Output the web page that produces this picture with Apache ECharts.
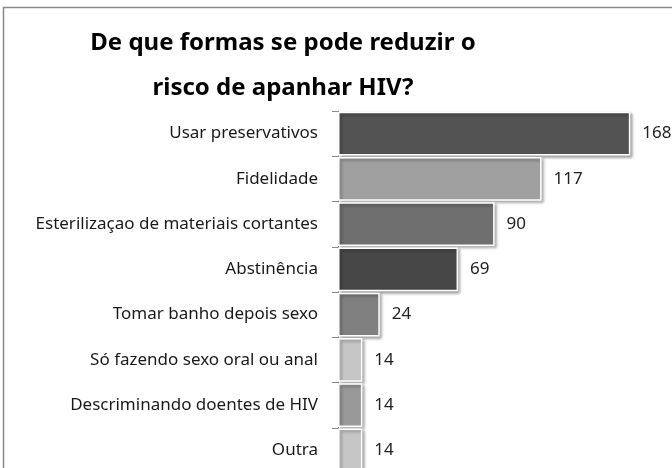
<!DOCTYPE html>
<html lang="pt">
<head>
<meta charset="UTF-8">
<title>Risco HIV</title>
<script src="https://cdn.jsdelivr.net/npm/echarts@6/dist/echarts.min.js"></script>
<style>
  html, body { margin: 0; padding: 0; background: #fff; }
  #main { width: 672px; height: 468px; }
</style>
</head>
<body>
<div id="main"></div>
<script type="text/javascript">
// dados do gráfico
var categorias = [
    'Usar preservativos',
    'Fidelidade',
    'Esterilizaçao de materiais cortantes',
    'Abstinência',
    'Tomar banho depois sexo',
    'Só fazendo sexo oral ou anal',
    'Descriminando doentes de HIV',
    'Outra'
];
var valores = [168, 117, 90, 69, 24, 14, 14, 14];
var cores = ['#535353', '#a0a0a0', '#6f6f6f', '#474747', '#808080', '#c6c6c6', '#999999', '#c6c6c6'];

var myChart = echarts.init(document.getElementById('main'));

myChart.setOption({
    backgroundColor: '#fff',
    animation: false,
    title: {
        text: 'De que formas se pode reduzir o\nrisco de apanhar HIV?',
        left: 278,
        textAlign: 'center',
        top: 16,
        textStyle: {
            fontFamily: '"Noto Sans", sans-serif',
            fontWeight: 'bold',
            fontSize: 24,
            lineHeight: 45,
            color: '#000'
        }
    },
    // moldura cinzenta
    graphic: [{
        type: 'rect',
        shape: { x: 3.5, y: 7.5, width: 720, height: 520 },
        style: { fill: 'none', stroke: '#8a8a8a', lineWidth: 1.5 },
        silent: true
    }],
    grid: {
        left: 338,
        top: 111,
        width: 348,
        height: 362,
        outerBoundsMode: 'none',
        containLabel: false
    },
    xAxis: {
        type: 'value',
        min: 0,
        max: 200,
        show: false
    },
    yAxis: {
        type: 'category',
        inverse: true,
        data: categorias,
        axisLine: { show: true, lineStyle: { color: '#8a8a8a', width: 1 } },
        axisTick: { show: true, length: 6, lineStyle: { color: '#8a8a8a' } },
        axisLabel: {
            margin: 20,
            fontFamily: '"Noto Sans", sans-serif',
            fontSize: 17,
            color: '#1a1a1a'
        }
    },
    series: [{
        type: 'bar',
        barCategoryGap: '3%',
        data: valores.map(function (v, i) {
            return { value: v, itemStyle: { color: cores[i] } };
        }),
        itemStyle: {
            borderColor: '#fff',
            borderWidth: 1.5,
            shadowColor: 'rgba(0, 0, 0, 0.35)',
            shadowBlur: 3,
            shadowOffsetX: 2,
            shadowOffsetY: 2
        },
        label: {
            show: true,
            position: 'right',
            distance: 12,
            fontFamily: '"Noto Sans", sans-serif',
            fontSize: 17,
            color: '#222'
        }
    }]
});
</script>
</body>
</html>
